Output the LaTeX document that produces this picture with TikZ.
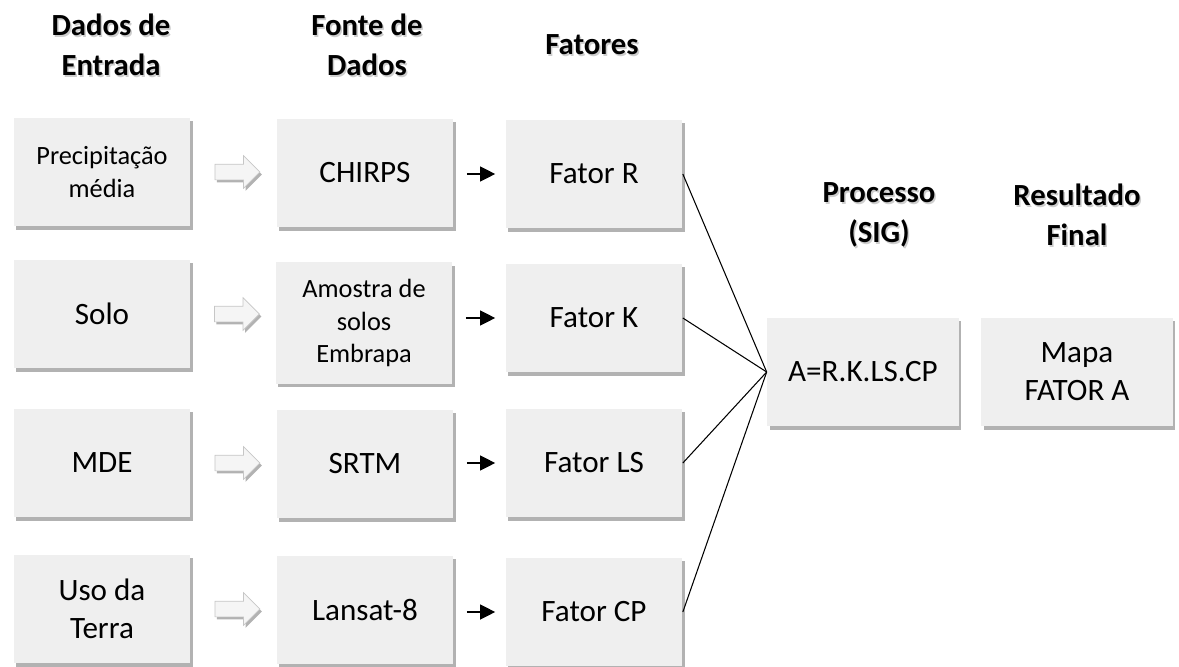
\documentclass[tikz,border=0pt]{standalone}
\usepackage{fontspec}
\setmainfont{Carlito}
\usetikzlibrary{positioning, calc, shapes.arrows, shadows, arrows.meta}

\definecolor{boxgray}{HTML}{EFEFEF}

\newcommand{\headnode}[3]{%
  \node[head, text=gray!70, opacity=0.55] at ($(#2)+(1.5,1.5)$) {#3};
  \node[head] (#1) at (#2) {#3};}

\begin{document}
\begin{tikzpicture}[x=0.02cm, y=-0.02cm, >={Triangle[length=0.3cm, width=0.3cm]},
  every node/.style={font=\fontsize{17.7}{21.6}\selectfont, align=center},
  box/.style={fill=boxgray, minimum width=3.54cm, minimum height=2.18cm, inner sep=0pt,
    drop shadow={shadow xshift=0.05cm, shadow yshift=-0.07cm, fill=black, opacity=0.3}},
  small/.style={font=\fontsize{15}{18.5}\selectfont},
  head/.style={font=\bfseries\fontsize{17.5}{22.8}\selectfont},
  blockarrow/.style={single arrow, fill=gray!8, draw=gray!45, line width=0.4pt,
    minimum height=0.9cm, single arrow head extend=0.17cm, inner sep=0pt,
    drop shadow={shadow xshift=0.04cm, shadow yshift=-0.05cm, fill=black, opacity=0.3}}]

\useasboundingbox (0,0) rectangle (1179,666);

% cabecalhos
\headnode{h1}{111,45}{Dados de\\Entrada}
\headnode{h2}{367,45}{Fonte de\\Dados}
\headnode{h3}{592,45}{Fatores}
\headnode{h4}{879,215}{Processo\\(SIG)}
\headnode{h5}{1077,215}{Resultado\\Final}

% dados de entrada
\node[box, small] (prec) at (102,172) {Precipitação\\média};
\node[box] (solo) at (102,314) {Solo};
\node[box] (mde) at (102,463) {MDE};
\node[box] (uso) at (102,609) {Uso da\\Terra};

% fontes
\node[box] (chirps) at (365,173) {CHIRPS};
\node[box, small, minimum height=2.44cm] (amostra) at (364,323) {Amostra de\\solos\\Embrapa};
\node[box] (srtm) at (365,464) {SRTM};
\node[box] (lansat) at (365,610) {Lansat-8};

% fatores
\node[box] (fr) at (594,174) {Fator R};
\node[box] (fk) at (594,318) {Fator K};
\node[box] (fls) at (594,463) {Fator LS};
\node[box] (fcp) at (594,612) {Fator CP};

% processo e resultado
\node[box, minimum width=3.84cm] (proc) at (863,372) {A=R.K.LS.CP};
\node[box, minimum width=3.84cm] (res) at (1077,372) {Mapa\\FATOR A};

\foreach \a/\b/\n in {prec/chirps/1, solo/amostra/2, mde/srtm/3, uso/lansat/4}
  \node[blockarrow] (seta\n) at ($(\a.east)!0.5!(\b.west |- \a.east)$) {\rule{0pt}{0.3cm}};

\foreach \a/\b in {chirps/fr, amostra/fk, srtm/fls, lansat/fcp}
  \draw[->, line width=0.7pt] ($(\a.east |- \b.west)+(13,0)$) -- ($(\b.west)+(-10,0)$);

\foreach \f in {fr, fk, fls, fcp}
  \draw[line width=0.6pt] (\f.east) -- (proc.west);

\end{tikzpicture}
\end{document}
